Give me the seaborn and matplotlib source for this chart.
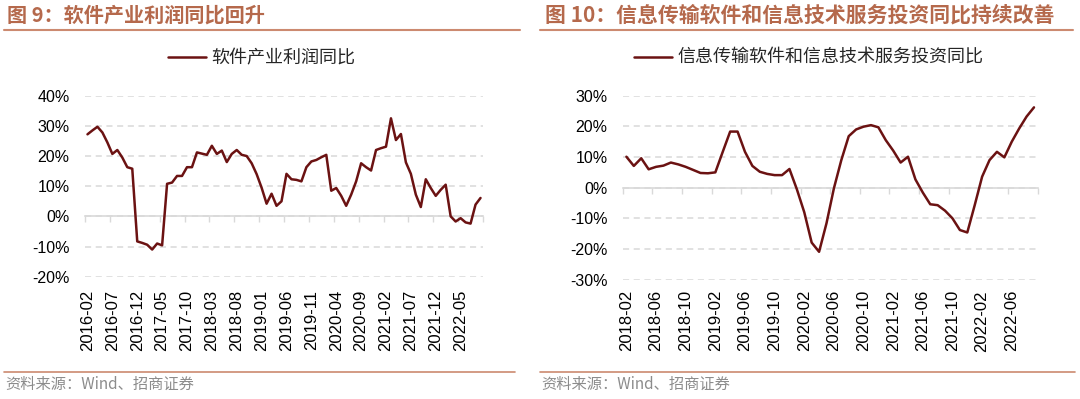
import numpy as np
import pandas as pd
import matplotlib
matplotlib.use("Agg")
import matplotlib.pyplot as plt
from matplotlib.lines import Line2D
from matplotlib.font_manager import FontProperties
import seaborn as sns

# ========== 数据 ==========
# 图9：软件产业利润同比（%），2016-02 起逐月
profit_start = "2016-02"
profit_yoy = [27.2, 28.5, 29.7, 27.8, 24.5, 20.7, 22.0, 19.5, 16.3, 15.8,
              -8.3, -8.8, -9.4, -11.0, -9.0, -9.6, 10.8, 11.2, 13.4, 13.4,
              16.3, 16.3, 21.2, 20.8, 20.4, 23.4, 20.7, 21.8, 18.0, 20.7,
              22.0, 20.4, 20.0, 17.6, 14.0, 9.5, 4.2, 7.5, 3.5, 5.0,
              14.1, 12.3, 12.1, 11.6, 16.3, 18.2, 18.7, 19.6, 20.4, 8.5,
              9.4, 6.8, 3.5, 7.2, 11.6, 17.6, 16.3, 15.2, 22.0, 22.6,
              23.1, 32.5, 25.3, 27.3, 17.9, 14.1, 7.2, 3.1, 12.3, 9.4,
              6.8, 8.8, 10.5, 0.0, -1.7, -0.6, -2.0, -2.4, 3.9, 6.1]

# 图10：信息传输软件和信息技术服务投资同比（%），2018-02 起逐月
invest_start = "2018-02"
invest_yoy = [10.1, 7.1, 9.6, 6.0, 6.8, 7.2, 8.2, 7.6, 6.8, 5.8,
              4.8, 4.7, 5.0, 11.7, 18.3, 18.3, 11.7, 7.1, 5.2, 4.5,
              4.1, 4.1, 6.1, -0.5, -8.0, -17.9, -20.9, -11.6, -0.2, 9.0,
              16.8, 19.0, 19.9, 20.4, 19.7, 15.5, 12.1, 8.2, 10.1, 2.7,
              -1.6, -5.4, -5.7, -7.5, -10.0, -13.8, -14.6, -5.7, 3.6, 9.0,
              11.7, 9.9, 15.0, 19.3, 23.2, 26.2]

titles = ["图 9：软件产业利润同比回升",
          "图 10：信息传输软件和信息技术服务投资同比持续改善"]
legend_names = ["软件产业利润同比", "信息传输软件和信息技术服务投资同比"]
source_text = "资料来源：Wind、招商证券"

# ========== 样式 ==========
LINE_C = "#6B1212"
TITLE_C = "#B5694C"
RULE_C = "#CC8A70"
GRID_C = "#D9D9D9"

sns.set_theme(style="white")
plt.rcParams["font.family"] = ["Liberation Sans", "Noto Sans CJK SC", "DejaVu Sans"]
CJK = ["Noto Sans CJK SC", "DejaVu Sans"]
cjk = FontProperties(family=CJK, size=13)
cjk_src = FontProperties(family=CJK, size=11)

fig = plt.figure(figsize=(10.8, 3.99), dpi=100)

panels = [
    dict(vals=profit_yoy, start=profit_start, step=5, ylim=(-20, 40), yticks=range(-20, 41, 10),
         rect=[85 / 1080, 1 - 276.7 / 399, 398 / 1080, 181 / 399], xpad=9.5,
         leg=(262 / 1080, 1 - 58 / 399)),
    dict(vals=invest_yoy, start=invest_start, step=4, ylim=(-30, 30), yticks=range(-30, 31, 10),
         rect=[622.7 / 1080, 1 - 279.7 / 399, 415 / 1080, 184 / 399], xpad=7.5,
         leg=(809 / 1080, 1 - 58 / 399)),
]

for i, p in enumerate(panels):
    months = pd.period_range(p["start"], periods=len(p["vals"]), freq="M").strftime("%Y-%m")
    df = pd.DataFrame({"month": months, "yoy": p["vals"]})
    n = len(df)

    ax = fig.add_axes(p["rect"])
    sns.lineplot(data=df, x="month", y="yoy", ax=ax, color=LINE_C, linewidth=1.8,
                 sort=False, label=legend_names[i], zorder=5)

    ax.set_xlim(-0.5, n - 0.5)
    ax.set_ylim(*p["ylim"])
    ax.set_yticks(list(p["yticks"]))
    ax.set_yticklabels([f"{v}%" for v in p["yticks"]])
    lab_idx = list(range(0, n, p["step"]))
    ax.set_xticks(lab_idx)
    ax.set_xticklabels([months[k] for k in lab_idx], rotation=90)
    ax.tick_params(axis="x", length=0, pad=p["xpad"], labelsize=12, colors="black")
    ax.tick_params(axis="y", length=0, pad=11, labelsize=11.5, colors="black")
    ax.set_xlabel("")
    ax.set_ylabel("")
    for s in ax.spines.values():
        s.set_visible(False)
    ax.yaxis.grid(True, linestyle=(0, (4, 3)), color=GRID_C, linewidth=1.1)
    ax.xaxis.grid(False)
    ax.set_facecolor("none")

    # 0 轴（带分类刻度）
    lo, hi = p["ylim"]
    sec = ax.secondary_xaxis((0 - lo) / (hi - lo))
    sec.set_alignment("bottom")
    sec.set_xticks([k - 0.5 for k in range(0, n + 1, p["step"])])
    sec.tick_params(axis="x", length=4, width=1, color=GRID_C, labelbottom=False, labeltop=False)
    sec.spines["bottom"].set_color(GRID_C)
    sec.spines["bottom"].set_linewidth(1.2)
    sec.spines["top"].set_visible(False)

    ax.legend(loc="center", bbox_to_anchor=p["leg"], bbox_transform=fig.transFigure,
              frameon=False, prop=cjk, handlelength=2.1, handletextpad=0.3)

# 标题、分隔线、资料来源
fig.text(7 / 1080, 1 - 15 / 399, titles[0], family=CJK, size=14.5, weight="bold",
         color=TITLE_C, va="center", ha="left")
fig.text(545 / 1080, 1 - 15 / 399, titles[1], family=CJK, size=15, weight="bold",
         color=TITLE_C, va="center", ha="left")
for x0, x1 in [(4, 520), (540, 1073)]:
    fig.add_artist(Line2D([x0 / 1080, x1 / 1080], [1 - 29.5 / 399] * 2, color=RULE_C, linewidth=1.5))
for x0, x1 in [(4, 515), (540, 1075)]:
    fig.add_artist(Line2D([x0 / 1080, x1 / 1080], [1 - 372 / 399] * 2, color=RULE_C, linewidth=1.2))
fig.text(5 / 1080, 1 - 384 / 399, source_text, fontproperties=cjk_src, color="#8C8C8C", va="center", ha="left")
fig.text(541 / 1080, 1 - 384 / 399, source_text, fontproperties=cjk_src, color="#8C8C8C", va="center", ha="left")

fig.savefig("out.png", dpi=100)
